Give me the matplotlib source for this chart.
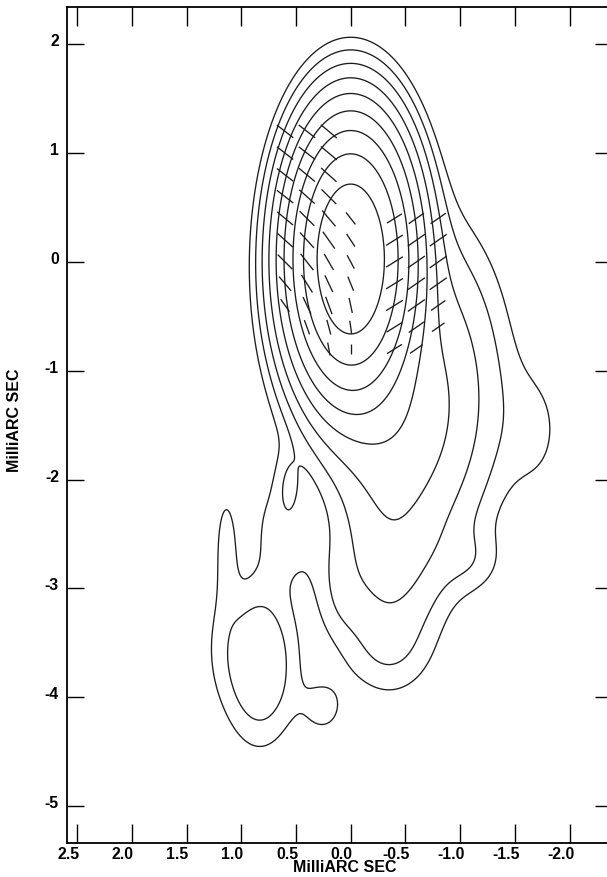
import numpy as np
import matplotlib
matplotlib.use("Agg")
import matplotlib.pyplot as plt
from matplotlib.collections import LineCollection
from matplotlib.transforms import ScaledTranslation

# ---- total-intensity model: Gaussian components (units of lowest contour)
#            core   W      J1     J2     H     R      SW     LB    F     M     I     B2    J3    M2    LL    J4
comp_amp = [520.0, 7.5,   6.5,   5.2,   1.4,  1.0,   1.0,   3.6,  1.3,  1.0,  1.45, 1.2,  1.0,  0.5,  0.6,  0.8]
comp_x   = [0.00, -0.70, -0.25, -0.34,  0.20, -1.70, -1.10, 0.83, 1.14, 0.70, 0.56, 0.25, 0.10, 0.45, 1.20, -0.35]
comp_y   = [0.03, -1.20, -1.45, -2.50, -0.50, -1.55, -2.75, -3.70, -2.60, -2.40, -2.07, -4.10, -3.05, -2.70, -3.50, -3.60]
comp_sx  = [0.257, 0.40,  0.35,  0.31,  0.40,  0.22,  0.20, 0.22, 0.08, 0.17, 0.08, 0.15, 0.15, 0.20, 0.15, 0.25]
comp_sy  = [0.575, 0.85,  0.45,  0.70,  0.80,  0.45,  0.20, 0.47, 0.40, 0.35, 0.22, 0.20, 0.30, 0.25, 0.40, 0.25]

contour_levels = [1, 2, 4, 8, 16, 32, 64, 128, 256]

# ---- polarization vectors: position (mas), position angle (deg, N through E), length (mas)
pol_x = [0.6, 0.4, 0.2,
         0.6, 0.4, 0.2,
         0.6, 0.4, 0.2,
         0.6, 0.4, 0.2,
         0.6, 0.4, 0.2, 0.0,
         0.6, 0.4, 0.2, 0.0,
         0.6, 0.4, 0.2, 0.0,
         0.6, 0.4, 0.2, 0.0,
         0.6, 0.4, 0.2, 0.0,
         0.4, 0.2, 0.0,
         0.2, 0.0,
         -0.4, -0.6, -0.8,
         -0.4, -0.6, -0.8,
         -0.4, -0.6, -0.8,
         -0.4, -0.6, -0.8,
         -0.4, -0.6, -0.8,
         -0.4, -0.6, -0.8,
         -0.4, -0.6]
pol_y = [1.2, 1.2, 1.2,
         1.0, 1.0, 1.0,
         0.8, 0.8, 0.8,
         0.6, 0.6, 0.6,
         0.4, 0.4, 0.4, 0.4,
         0.2, 0.2, 0.2, 0.2,
         0.0, 0.0, 0.0, 0.0,
         -0.2, -0.2, -0.2, -0.2,
         -0.4, -0.4, -0.4, -0.4,
         -0.6, -0.6, -0.6,
         -0.8, -0.8,
         0.4, 0.4, 0.4,
         0.2, 0.2, 0.2,
         0.0, 0.0, 0.0,
         -0.2, -0.2, -0.2,
         -0.4, -0.4, -0.4,
         -0.6, -0.6, -0.6,
         -0.8, -0.8]
pol_pa = [52, 52, 50,
          52, 52, 50,
          52, 50, 48,
          52, 48, 45,
          50, 45, 40, 38,
          48, 42, 35, 33,
          45, 38, 30, 28,
          40, 32, 25, 22,
          35, 25, 20, 12,
          20, 15, 8,
          10, 0,
          122, 125, 125,
          122, 125, 125,
          122, 125, 125,
          122, 125, 125,
          122, 125, 125,
          122, 125, 125,
          122, 125]
pol_len = [0.19, 0.19, 0.19,
           0.19, 0.19, 0.19,
           0.19, 0.19, 0.19,
           0.19, 0.19, 0.19,
           0.19, 0.19, 0.19, 0.14,
           0.19, 0.19, 0.19, 0.14,
           0.19, 0.19, 0.17, 0.14,
           0.17, 0.19, 0.17, 0.14,
           0.14, 0.17, 0.17, 0.14,
           0.14, 0.14, 0.12,
           0.12, 0.10,
           0.16, 0.17, 0.17,
           0.18, 0.19, 0.19,
           0.18, 0.19, 0.19,
           0.18, 0.19, 0.19,
           0.18, 0.19, 0.16,
           0.17, 0.17, 0.14,
           0.16, 0.14]

xtick_vals = [2.5, 2.0, 1.5, 1.0, 0.5, 0.0, -0.5, -1.0, -1.5, -2.0]
xtick_labels = ["2.5", "2.0", "1.5", "1.0", "0.5", "0.0", "-0.5", "-1.0", "-1.5", "-2.0"]
ytick_vals = [2, 1, 0, -1, -2, -3, -4, -5]
ytick_labels = ["2", "1", "0", "-1", "-2", "-3", "-4", "-5"]
axis_label = "MilliARC SEC"

xlim = (2.597, -2.388)
ylim = (-5.34, 2.347)

plt.rcParams['font.family'] = ['Liberation Sans', 'DejaVu Sans']
plt.rcParams['font.weight'] = 'bold'

fig = plt.figure(figsize=(6.07, 8.77), dpi=100)
ax = fig.add_axes([0.1097, 0.0388, 0.8985, 0.9537])
ax.set_xlim(*xlim)
ax.set_ylim(*ylim)

xs = np.linspace(min(xlim), max(xlim), 700)
ys = np.linspace(min(ylim), max(ylim), 1100)
X, Y = np.meshgrid(xs, ys)
Z = np.zeros_like(X)
for a, x0, y0, sx, sy in zip(comp_amp, comp_x, comp_y, comp_sx, comp_sy):
    Z += a * np.exp(-0.5 * (((X - x0) / sx) ** 2 + ((Y - y0) / sy) ** 2))

ax.contour(X, Y, Z, levels=contour_levels, colors='#1c1c1c', linewidths=0.95)

px = np.array(pol_x); py = np.array(pol_y)
pa = np.radians(np.array(pol_pa)); pl = np.array(pol_len)
dx = 0.5 * pl * np.sin(pa); dy = 0.5 * pl * np.cos(pa)
segs = [[(x - ddx, y - ddy), (x + ddx, y + ddy)] for x, y, ddx, ddy in zip(px, py, dx, dy)]
ax.add_collection(LineCollection(segs, colors='#1c1c1c', linewidths=0.95))

ax.set_xticks(xtick_vals)
ax.set_xticklabels(xtick_labels)
ax.set_yticks(ytick_vals)
ax.set_yticklabels(ytick_labels)
ax.tick_params(axis='x', direction='in', length=13.7, width=1.0, top=True, bottom=True,
               labelsize=11.4, pad=3)
ax.tick_params(axis='y', direction='in', length=12, width=1.0, left=True, right=True,
               labelsize=11.4, pad=5.5)
for sp in ax.spines.values():
    sp.set_linewidth(1.3)

off_x = ScaledTranslation(-9 / 100, 0, fig.dpi_scale_trans)
for lab in ax.get_xticklabels():
    lab.set_transform(lab.get_transform() + off_x)
    lab.set_fontweight('bold')
off_y = ScaledTranslation(0, 4 / 100, fig.dpi_scale_trans)
for lab in ax.get_yticklabels():
    lab.set_transform(lab.get_transform() + off_y)
    lab.set_fontweight('bold')

fig.text(345 / 607, 1 - 868 / 877, axis_label, ha='center', va='center',
         fontsize=11.5, fontweight='bold')
fig.text(15 / 607, 1 - 420 / 877, axis_label, ha='center', va='center',
         fontsize=11.5, fontweight='bold', rotation=90)

fig.savefig("out.png", dpi=100)
